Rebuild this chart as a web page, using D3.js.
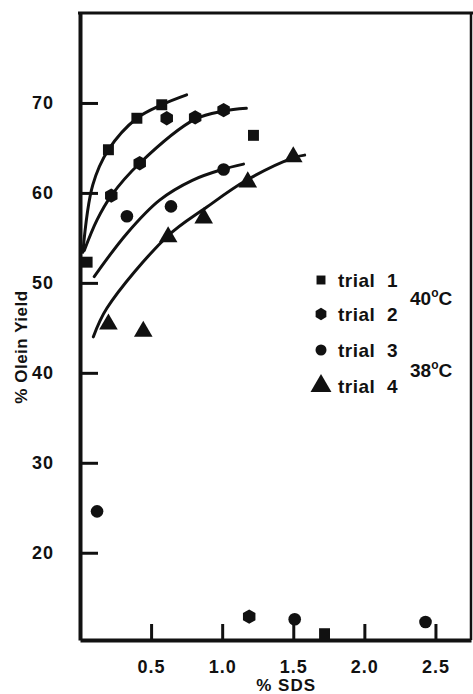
<!DOCTYPE html>
<html>
<head>
<meta charset="utf-8">
<script src="https://cdn.jsdelivr.net/npm/d3@7"></script>
<style>
  html, body { margin: 0; padding: 0; background: #fff; }
  svg { display: block; }
  text { font-family: "Liberation Sans", Arial, sans-serif; font-weight: bold; fill: #111; }
</style>
</head>
<body>
<svg id="chart"></svg>
<script>
// tick values
const xTicks = [0.5, 1.0, 1.5, 2.0, 2.5];
const yTicks = [20, 30, 40, 50, 60, 70];

// measured points (x = % SDS, y = % olein yield)
const trial1 = [[0.05, 52.3], [0.20, 64.8], [0.40, 68.3], [0.575, 69.8], [1.22, 66.4], [1.72, 11.0]];
const trial2 = [[0.22, 59.7], [0.42, 63.3], [0.61, 68.3], [0.81, 68.4], [1.01, 69.2], [1.19, 12.9]];
const trial3 = [[0.12, 24.6], [0.33, 57.4], [0.64, 58.5], [1.01, 62.6], [1.51, 12.6], [2.43, 12.3]];
const trial4 = [[0.20, 45.4], [0.445, 44.6], [0.62, 55.1], [0.87, 57.2], [1.18, 61.2], [1.50, 64.0]];

// fitted curves
const curveA = [[0.02, 53.4], [0.09, 60.9], [0.20, 64.8], [0.40, 68.3], [0.575, 69.8], [0.75, 70.9]];
const curveB = [[0.03, 53.6], [0.12, 57.0], [0.22, 59.7], [0.42, 63.3], [0.81, 68.2], [1.01, 69.1], [1.17, 69.4]];
const curveC = [[0.10, 50.7], [0.33, 55.5], [0.56, 59.2], [0.79, 61.4], [1.00, 62.6], [1.15, 63.2]];
const curveD = [[0.094, 44.0], [0.19, 47.2], [0.61, 55.1], [0.89, 58.4], [1.17, 61.4], [1.50, 63.9], [1.58, 64.2]];

const legendLabels = ["trial  1", "trial  2", "trial  3", "trial  4"];

const W = 473, H = 694;
const margin = { top: 13, right: 2, bottom: 54, left: 80 };

const svg = d3.select("#chart").attr("width", W).attr("height", H);

const x = d3.scaleLinear().domain([0, 2.75]).range([margin.left, W - margin.right]);
const y = d3.scaleLinear().domain([10.3, 80]).range([H - margin.bottom, margin.top]);

// hexagon symbol for trial 2
const hexagon = {
    draw(context, size) {
        const r = Math.sqrt(size / 2.598);
        for (let i = 0; i < 6; i++) {
            const a = Math.PI / 6 + i * Math.PI / 3;
            const px = r * Math.cos(a), py = r * Math.sin(a);
            if (i === 0) context.moveTo(px, py); else context.lineTo(px, py);
        }
        context.closePath();
    }
};

// frame: top and right border
svg.append("line")
    .attr("x1", x.range()[0] - 2).attr("x2", W)
    .attr("y1", y.range()[1]).attr("y2", y.range()[1])
    .attr("stroke", "#111").attr("stroke-width", 3);
svg.append("line")
    .attr("x1", x.range()[1]).attr("x2", x.range()[1])
    .attr("y1", y.range()[1]).attr("y2", y.range()[0])
    .attr("stroke", "#111").attr("stroke-width", 2.5);

// X axis (ticks point inward)
svg.append("g")
    .attr("transform", `translate(0,${y.range()[0]})`)
    .call(d3.axisBottom(x).tickValues(xTicks).tickFormat(d3.format(".1f")).tickSizeInner(-16).tickSizeOuter(0).tickPadding(20))
    .call(g => g.select(".domain").attr("stroke", "#111").attr("stroke-width", 4))
    .call(g => g.selectAll(".tick line").attr("stroke", "#111").attr("stroke-width", 3))
    .call(g => g.selectAll("text").attr("font-size", 18).attr("fill", "#111").attr("letter-spacing", 1));

// Y axis (ticks point inward)
svg.append("g")
    .attr("transform", `translate(${x.range()[0]},0)`)
    .call(d3.axisLeft(y).tickValues(yTicks).tickSizeInner(-18).tickSizeOuter(0).tickPadding(26))
    .call(g => g.select(".domain").attr("stroke", "#111").attr("stroke-width", 4))
    .call(g => g.selectAll(".tick line").attr("stroke", "#111").attr("stroke-width", 3))
    .call(g => g.selectAll("text").attr("font-size", 18).attr("fill", "#111").attr("letter-spacing", 1));

// fitted curves
const line = d3.line()
    .x(d => x(d[0]))
    .y(d => y(d[1]))
    .curve(d3.curveCatmullRom.alpha(0.5));

[curveA, curveB, curveC, curveD].forEach(c => {
    svg.append("path")
        .datum(c)
        .attr("fill", "none")
        .attr("stroke", "#111")
        .attr("stroke-width", 3)
        .attr("stroke-linecap", "round")
        .attr("d", line);
});

// markers
const series = [
    { data: trial1, type: d3.symbolSquare, size: 120 },
    { data: trial2, type: hexagon, size: 135 },
    { data: trial3, type: d3.symbolCircle, size: 125 },
    { data: trial4, type: d3.symbolTriangle, size: 150 }
];

series.forEach(s => {
    svg.append("g")
        .selectAll("path")
        .data(s.data)
        .join("path")
        .attr("transform", d => `translate(${x(d[0])},${y(d[1])})`)
        .attr("d", d3.symbol().type(s.type).size(s.size))
        .attr("fill", "#111");
});

// legend
const legend = svg.append("g").attr("transform", "translate(321,280)");
const legendSymbols = [
    { type: d3.symbolSquare, size: 80 },
    { type: hexagon, size: 100 },
    { type: d3.symbolCircle, size: 95 },
    { type: d3.symbolTriangle, size: 190 }
];
const rowGap = [0, 34, 70, 106];

legendLabels.forEach((label, i) => {
    const row = legend.append("g").attr("transform", `translate(0,${rowGap[i]})`);
    row.append("path")
        .attr("d", d3.symbol().type(legendSymbols[i].type).size(legendSymbols[i].size))
        .attr("fill", "#111");
    row.append("text")
        .attr("x", 17)
        .attr("y", 7)
        .attr("font-size", 19)
        .attr("letter-spacing", 0.5)
        .attr("xml:space", "preserve")
        .text(label);
});

// temperatures
[["40", 305], ["38", 377]].forEach(([t, yy]) => {
    const txt = svg.append("text")
        .attr("x", 410)
        .attr("y", yy)
        .attr("font-size", 19);
    txt.append("tspan").text(t);
    txt.append("tspan").attr("dy", -8).attr("font-size", 12).text("o");
    txt.append("tspan").attr("dy", 8).text("C");
});

// axis titles
svg.append("text")
    .attr("text-anchor", "middle")
    .attr("x", x(1.45))
    .attr("y", 691)
    .attr("font-size", 17)
    .attr("letter-spacing", 1)
    .text("% SDS");

svg.append("text")
    .attr("text-anchor", "middle")
    .attr("transform", "rotate(-90)")
    .attr("x", -347)
    .attr("y", 27)
    .attr("font-size", 17)
    .attr("letter-spacing", 0.5)
    .text("% Olein Yield");
</script>
</body>
</html>
